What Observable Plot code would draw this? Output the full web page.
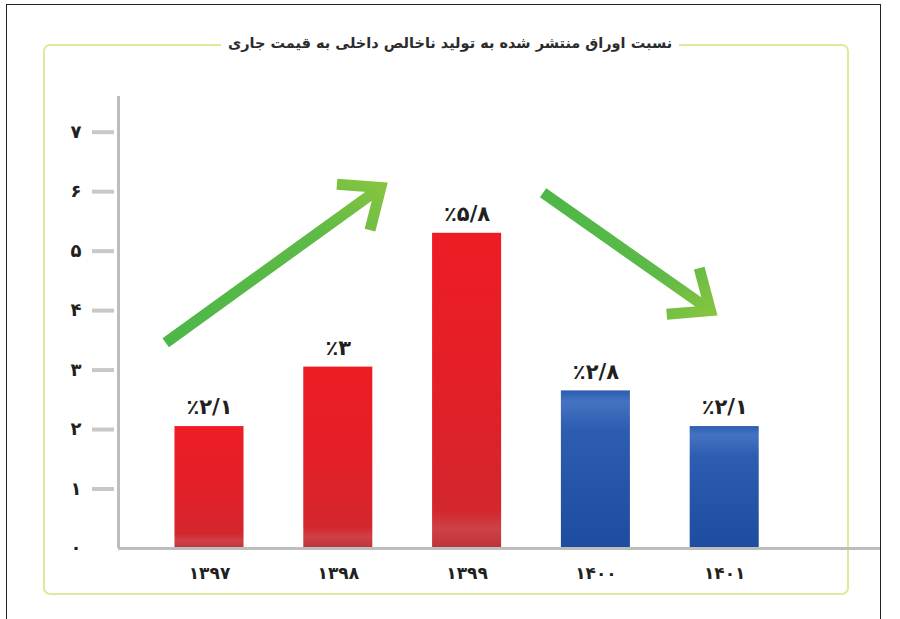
<!DOCTYPE html>
<html><head><meta charset="utf-8">
<script src="https://cdn.jsdelivr.net/npm/d3@7"></script>
<script src="https://cdn.jsdelivr.net/npm/@observablehq/plot@0.6"></script>
<style>
html,body{margin:0;padding:0;background:#fff;width:900px;height:619px;overflow:hidden;}
#wrap{position:relative;width:900px;height:619px;}
#outer{position:absolute;left:6px;top:4px;width:875px;height:700px;border:1.5px solid #222;box-sizing:border-box;}
#frame{position:absolute;left:43px;top:44px;width:806px;height:551px;border:2px solid #e2e79a;border-radius:7px;box-sizing:border-box;}
#title{position:absolute;left:0;width:900px;top:33px;text-align:center;line-height:20px;}
#title span{background:#fff;padding:0 7px;font:bold 14.5px "DejaVu Sans",sans-serif;color:#2b2b2b;}
#chart{position:absolute;left:0;top:0;}
</style>
</head><body>
<div id="wrap">
  <div id="outer"></div>
  <div id="frame"></div>
  <div id="chart"></div>
  <div id="title"><span dir="rtl">نسبت اوراق منتشر شده به تولید ناخالص داخلی به قیمت جاری</span></div>
</div>
<script>
// ---- data ----
const years = ["۱۳۹۷", "۱۳۹۸", "۱۳۹۹", "۱۴۰۰", "۱۴۰۱"];
const values = [2.05, 3.05, 5.3, 2.65, 2.05];
const valueLabels = ["٪۲/۱", "٪۳", "٪۵/۸", "٪۲/۸", "٪۲/۱"];
const groups = ["red", "red", "red", "blue", "blue"];
const yTicks = [0, 1, 2, 3, 4, 5, 6, 7];
const yTickLabels = ["۰", "۱", "۲", "۳", "۴", "۵", "۶", "۷"];
// decorative trend arrows (start/end in data units: bar index, value)
const arrowX1 = [-0.34, 2.59];
const arrowY1 = [3.46, 5.98];
const arrowX2 = [1.33, 3.89];
const arrowY2 = [6.07, 4.0];
const arrowDir = ["up", "down"];

const data = years.map((year, i) => ({i, year, value: values[i], label: valueLabels[i], group: groups[i]}));
const arrows = arrowX1.map((x1, k) => ({x1, y1: arrowY1[k], x2: arrowX2[k], y2: arrowY2[k], dir: arrowDir[k]}));
const xDomain = [-0.7065, 5.2096];
const font = "'DejaVu Sans', sans-serif";

const plot = Plot.plot({
  width: 900, height: 619,
  marginLeft: 118, marginRight: 20, marginTop: 96, marginBottom: 71,
  style: {background: "transparent", fontFamily: font, overflow: "visible"},
  x: {domain: xDomain, axis: null},
  y: {domain: [0, 7.6], axis: null},
  color: {type: "identity"},
  marks: [
    Plot.rectY(data, {x1: d => d.i - 0.268, x2: d => d.i + 0.268, y1: 0, y2: "value", fill: d => `url(#grad-${d.group})`}),
    Plot.ruleY([0], {stroke: "#bdbdbd", strokeWidth: 3}),
    Plot.ruleX([xDomain[0]], {stroke: "#bdbdbd", strokeWidth: 3}),
    Plot.axisY({ticks: yTicks.slice(1), tickSize: 22, dx: -4, tickFormat: () => "", stroke: "#c8c8c8", strokeWidth: 4, label: null}),
    Plot.axisY({ticks: yTicks, tickSize: 0, tickPadding: 37, tickFormat: (d) => yTickLabels[d], fontSize: 18, fontWeight: "bold", fill: "#231f20", label: null}),
    Plot.axisX({ticks: d3.range(years.length), tickSize: 0, tickPadding: 18, tickFormat: (d) => years[d], fontSize: 17, fontWeight: "bold", fill: "#231f20", label: null}),
    Plot.text(data, {x: "i", y: "value", text: "label", dy: -19, fontSize: 21, fontWeight: "bold", fill: "#231f20"}),
    Plot.arrow(arrows, {x1: "x1", y1: "y1", x2: "x2", y2: "y2", stroke: d => `url(#grad-arrow-${d.dir})`, strokeWidth: 11, headLength: 6, headAngle: 80, strokeLinejoin: "miter", strokeLinecap: "butt", strokeMiterlimit: 10})
  ]
});

const svg = d3.select(plot);
const defs = svg.insert("defs", ":first-child");
function grad(id, stops, x1 = 0, y1 = 0, x2 = 0, y2 = 1) {
  const g = defs.append("linearGradient").attr("id", id).attr("x1", x1).attr("y1", y1).attr("x2", x2).attr("y2", y2);
  stops.forEach(([o, c]) => g.append("stop").attr("offset", o).attr("stop-color", c));
}
grad("grad-red", [[0, "#ee1c25"], [0.5, "#e31f27"], [0.88, "#d3262d"], [0.94, "#cf4148"], [1, "#bd3138"]]);
grad("grad-blue", [[0, "#2a5cb1"], [0.07, "#4573c1"], [0.25, "#2d5db1"], [1, "#1e4c9e"]]);
grad("grad-arrow-up", [[0, "#4cb748"], [0.7, "#5fba46"], [1, "#86c440"]], 0, 1, 1, 0);
grad("grad-arrow-down", [[0, "#4cb748"], [0.7, "#5fba46"], [1, "#86c440"]], 0, 0, 1, 1);

document.getElementById("chart").appendChild(plot);
</script>
</body></html>
